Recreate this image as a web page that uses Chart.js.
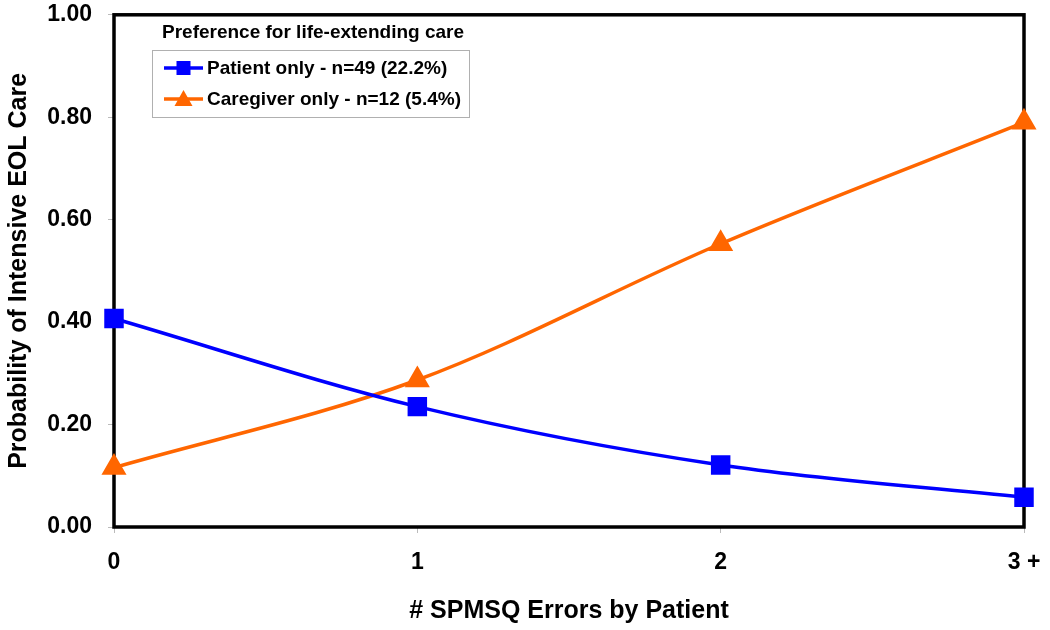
<!DOCTYPE html>
<html>
<head>
<meta charset="utf-8">
<script src="https://cdn.jsdelivr.net/npm/chart.js@4.4.0/dist/chart.umd.min.js"></script>
<style>
html,body{margin:0;padding:0;background:#fff;}
#wrap{width:1050px;height:630px;position:relative;}
</style>
</head>
<body>
<div id="wrap"><canvas id="c" width="1050" height="630"></canvas></div>
<script>
const categories = ['0', '1', '2', '3 +'];
const patientOnly = [0.407, 0.235, 0.121, 0.058];
const caregiverOnly = [0.116, 0.287, 0.553, 0.790];
const seriesNames = ['Patient only - n=49 (22.2%)', 'Caregiver only - n=12 (5.4%)'];
const legendTitle = 'Preference for life-extending care';
const xTitle = '# SPMSQ Errors by Patient';
const yTitle = 'Probability of Intensive EOL Care';

const FONT = '"Liberation Sans", Arial, sans-serif';

const framePlugin = {
  id: 'frame',
  beforeDatasetsDraw(chart) {
    const {ctx, chartArea: a} = chart;
    ctx.save();
    ctx.strokeStyle = '#000';
    ctx.lineWidth = 3.5;
    ctx.strokeRect(a.left, a.top, a.right - a.left, a.bottom - a.top);
    ctx.restore();
  }
};

function drawMarker(ctx, style, x, y, color) {
  ctx.fillStyle = color;
  if (style === 'rect') {
    ctx.fillRect(x - 7, y - 7, 14, 14);
  } else {
    ctx.beginPath();
    ctx.moveTo(x, y - 9);
    ctx.lineTo(x + 9, y + 7);
    ctx.lineTo(x - 9, y + 7);
    ctx.closePath();
    ctx.fill();
  }
}

const legendPlugin = {
  id: 'customLegend',
  afterDatasetsDraw(chart) {
    const {ctx} = chart;
    ctx.save();
    ctx.font = 'bold 19px ' + FONT;
    ctx.fillStyle = '#000';
    ctx.textAlign = 'center';
    ctx.textBaseline = 'middle';
    ctx.fillText(legendTitle, 313, 33);
    ctx.strokeStyle = '#b0b0b0';
    ctx.lineWidth = 1;
    ctx.fillStyle = '#fff';
    ctx.fillRect(152.5, 50.5, 317, 67);
    ctx.strokeRect(152.5, 50.5, 317, 67);
    chart.data.datasets.forEach((ds, i) => {
      const y = 68 + i * 31;
      ctx.strokeStyle = ds.borderColor;
      ctx.lineWidth = 3.5;
      ctx.beginPath();
      ctx.moveTo(164, y);
      ctx.lineTo(203, y);
      ctx.stroke();
      drawMarker(ctx, ds.pointStyle, 183.5, y, ds.borderColor);
      ctx.fillStyle = '#000';
      ctx.textAlign = 'left';
      ctx.font = 'bold 19px ' + FONT;
      ctx.fillText(seriesNames[i], 207, y + 1);
    });
    ctx.restore();
  }
};

new Chart(document.getElementById('c'), {
  type: 'line',
  data: {
    labels: categories,
    datasets: [
      {
        label: seriesNames[0],
        data: patientOnly,
        borderColor: '#0000FF',
        backgroundColor: '#0000FF',
        borderWidth: 3.5,
        pointStyle: 'rect',
        pointRadius: 11.3,
        pointHoverRadius: 11.3,
        tension: 0.4,
        cubicInterpolationMode: 'monotone'
      },
      {
        label: seriesNames[1],
        data: caregiverOnly,
        borderColor: '#FF6600',
        backgroundColor: '#FF6600',
        borderWidth: 3.5,
        pointStyle: 'triangle',
        pointRadius: 11,
        pointHoverRadius: 11,
        tension: 0.4,
        cubicInterpolationMode: 'monotone'
      }
    ]
  },
  options: {
    responsive: false,
    animation: false,
    clip: false,
    layout: { padding: { top: 9, right: 26, left: 0, bottom: 0 } },
    plugins: { legend: { display: false }, tooltip: { enabled: false } },
    scales: {
      x: {
        type: 'category',
        offset: false,
        grid: { drawOnChartArea: false, drawTicks: true, tickLength: 6, color: '#bbbbbb' },
        border: { display: false },
        ticks: { font: { family: FONT, size: 23, weight: 'bold' }, color: '#000', padding: 16, maxRotation: 0 },
        title: { display: true, text: xTitle, font: { family: FONT, size: 25, weight: 'bold' }, color: '#000', padding: { top: 18 } },
        afterFit(s) { s.height = 103; s.paddingLeft = 0; s.paddingRight = 0; }
      },
      y: {
        min: 0, max: 1,
        grid: { drawOnChartArea: false, drawTicks: true, tickLength: 6, color: '#bbbbbb' },
        border: { display: false },
        ticks: {
          stepSize: 0.2,
          font: { family: FONT, size: 23, weight: 'bold' }, color: '#000', padding: 16,
          callback: v => v.toFixed(2)
        },
        title: { display: true, text: yTitle, font: { family: FONT, size: 25, weight: 'bold' }, color: '#000', padding: { bottom: 4 } },
        afterFit(s) { s.width = 114; s.paddingTop = 0; s.paddingBottom = 0; }
      }
    }
  },
  plugins: [framePlugin, legendPlugin]
});
</script>
</body>
</html>
